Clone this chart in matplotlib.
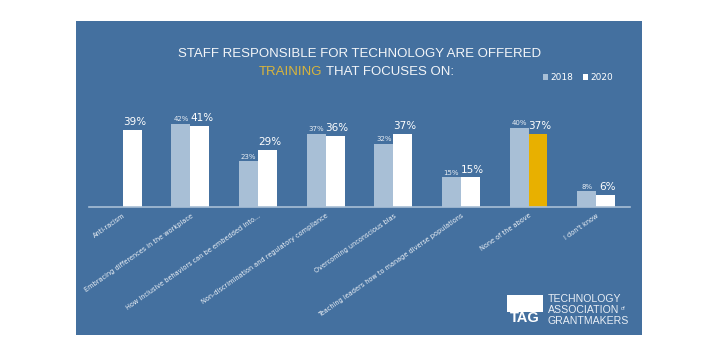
import matplotlib.pyplot as plt
from matplotlib.patches import Rectangle, Patch
import numpy as np

categories = [
    'Anti-racism',
    'Embracing differences in the workplace',
    'How inclusive behaviors can be embedded into...',
    'Non-discrimination and regulatory compliance',
    'Overcoming unconscious bias',
    'Teaching leaders how to manage diverse populations',
    'None of the above',
    "I don't know",
]
share_2018 = [0, 42, 23, 37, 32, 15, 40, 8]
share_2020 = [39, 41, 29, 36, 37, 15, 37, 6]
highlight = 'None of the above'

BG = '#44709F'
LIGHT = '#A8BFD6'
WHITE = '#FFFFFF'
GOLD = '#E8B000'
TITLE_GOLD = '#D9B53C'

fig = plt.figure(figsize=(7.2, 3.6), dpi=100)
fig.patch.set_facecolor('white')

# blue panel behind everything
fig.add_artist(Rectangle((0.1056, 0.0694), 0.786, 0.872, transform=fig.transFigure,
                         facecolor=BG, edgecolor='none', zorder=0))

ax = fig.add_axes([0.1236, 0.425, 0.7514, 0.275])
ax.set_facecolor('none')

x = np.arange(len(categories))
w = 0.28
colors_2020 = [GOLD if c == highlight else WHITE for c in categories]
ax.bar(x - w / 2, share_2018, w, color=LIGHT, edgecolor='none')
ax.bar(x + w / 2, share_2020, w, color=colors_2020, edgecolor='none')

for i, (a, b) in enumerate(zip(share_2018, share_2020)):
    if a > 0:
        ax.text(i - w / 2, a + 0.8, f'{a}%', ha='center', va='bottom',
                fontsize=5, color='#E6ECF3')
    ax.text(i + w / 2 + 0.03, b + 1.4, f'{b}%', ha='center', va='bottom',
            fontsize=7.5, color=WHITE)

# rotated category labels hanging below the axis
trans = ax.get_xaxis_transform()
for i, c in enumerate(categories):
    ax.text(i + 0.03, -0.08, c, transform=trans, rotation=35, rotation_mode='anchor',
            ha='right', va='center', fontsize=4.7, color='#EEF2F7')

ax.set_xlim(-0.5, len(categories) - 0.5)
ax.set_ylim(0, 50)
ax.set_xticks([])
ax.set_yticks([])
for s in ['top', 'right', 'left']:
    ax.spines[s].set_visible(False)
ax.spines['bottom'].set_color(LIGHT)
ax.spines['bottom'].set_linewidth(1.2)

# title, second line in two colours
title_font = ['Liberation Sans', 'DejaVu Sans']
fig.text(0.5, 1 - 54 / 360, 'STAFF RESPONSIBLE FOR TECHNOLOGY ARE OFFERED',
         ha='center', va='center', fontsize=9.5, color='#F4F6F9', family=title_font)
fig.text(0.447, 1 - 72 / 360, 'TRAINING', ha='right', va='center', fontsize=9.5,
         color=TITLE_GOLD, family=title_font)
fig.text(0.453, 1 - 72 / 360, 'THAT FOCUSES ON:', ha='left', va='center', fontsize=9.5,
         color='#F4F6F9', family=title_font)

handles = [Patch(facecolor=LIGHT, edgecolor='none', label='2018'),
           Patch(facecolor=WHITE, edgecolor='none', label='2020')]
fig.legend(handles=handles, loc='center', bbox_to_anchor=(578 / 720, 1 - 78 / 360),
           ncol=2, frameon=False, fontsize=6.5, labelcolor=WHITE,
           handlelength=0.6, handleheight=0.6, handletextpad=0.3, columnspacing=1.0)

# TAG logo
fig.add_artist(Rectangle((507 / 720, 1 - 312 / 360), 36 / 720, 17 / 360,
                         transform=fig.transFigure, facecolor=WHITE, edgecolor='none'))
fig.text(525 / 720, 1 - 318 / 360, 'TAG', ha='center', va='center', fontsize=10.5,
         weight='bold', color=WHITE, family=title_font)
for yy, t in [(299, 'TECHNOLOGY'), (310, 'ASSOCIATION'), (321, 'GRANTMAKERS')]:
    fig.text(548 / 720, 1 - yy / 360, t, ha='left', va='center',
             fontsize=7.6, color='#E8EEF5', family=title_font)
fig.text(621 / 720, 1 - 309 / 360, 'of', ha='left', va='center', fontsize=4,
         color='#E8EEF5', family=title_font)

fig.savefig('out.png', dpi=100)
